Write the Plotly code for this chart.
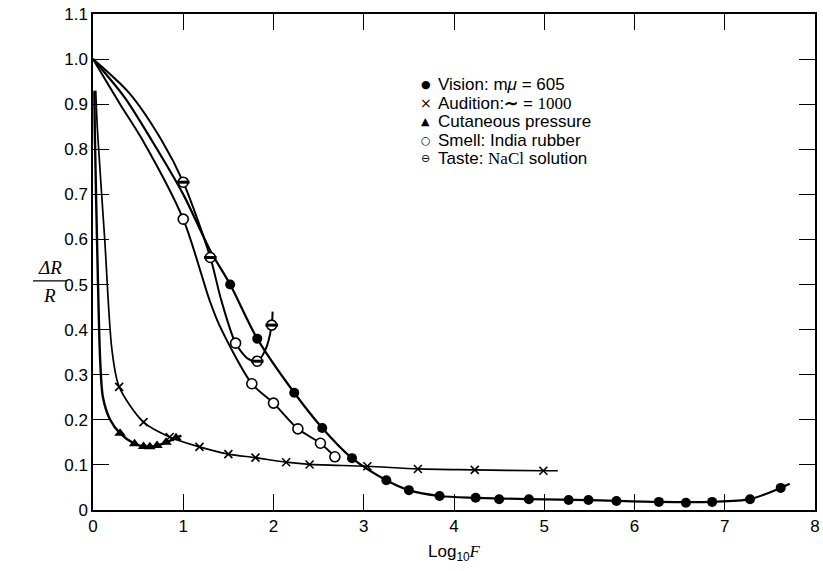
import plotly.graph_objects as go

# ---------------- data ----------------
vision_x = [1.52, 1.82, 2.23, 2.54, 2.87, 3.25, 3.5, 3.84, 4.24, 4.5, 4.83, 5.27, 5.49, 5.8, 6.27, 6.57, 6.86, 7.28, 7.62]
vision_y = [0.50, 0.38, 0.26, 0.182, 0.115, 0.066, 0.044, 0.031, 0.027, 0.024, 0.024, 0.022, 0.022, 0.020, 0.018, 0.016, 0.018, 0.024, 0.049]
vision_curve_x = [0, 0.35, 0.65, 1.0, 1.3, 1.52, 1.82, 2.23, 2.54, 2.87, 3.25, 3.5, 3.84, 4.24, 4.83, 5.49, 6.27, 6.86, 7.28, 7.62, 7.72]
vision_curve_y = [1.0, 0.915, 0.82, 0.70, 0.575, 0.50, 0.38, 0.26, 0.182, 0.115, 0.066, 0.044, 0.031, 0.027, 0.024, 0.022, 0.018, 0.018, 0.024, 0.049, 0.058]

audition_x = [0.29, 0.56, 0.85, 1.18, 1.5, 1.8, 2.14, 2.4, 3.04, 3.6, 4.23, 4.99]
audition_y = [0.273, 0.195, 0.162, 0.14, 0.124, 0.116, 0.106, 0.101, 0.097, 0.091, 0.089, 0.087]
audition_curve_x = [0.03, 0.05, 0.13, 0.21, 0.29, 0.56, 0.85, 1.18, 1.5, 1.8, 2.14, 2.4, 3.04, 3.6, 4.23, 4.99, 5.15]
audition_curve_y = [0.93, 0.84, 0.60, 0.355, 0.273, 0.195, 0.162, 0.14, 0.124, 0.116, 0.106, 0.101, 0.097, 0.091, 0.089, 0.087, 0.087]

cutaneous_x = [0.3, 0.46, 0.56, 0.63, 0.71, 0.81, 0.92]
cutaneous_y = [0.17, 0.147, 0.141, 0.14, 0.143, 0.15, 0.16]
cutaneous_curve_x = [0.015, 0.02, 0.05, 0.08, 0.11, 0.19, 0.3, 0.46, 0.56, 0.63, 0.71, 0.81, 0.92, 0.98]
cutaneous_curve_y = [0.93, 0.84, 0.55, 0.33, 0.25, 0.200, 0.17, 0.147, 0.141, 0.14, 0.143, 0.15, 0.16, 0.165]

smell_x = [1.0, 1.58, 1.76, 2.0, 2.27, 2.52, 2.68]
smell_y = [0.645, 0.37, 0.28, 0.237, 0.18, 0.148, 0.118]
smell_curve_x = [0, 0.3, 0.55, 1.0, 1.29, 1.4, 1.76, 2.0, 2.27, 2.52, 2.68]
smell_curve_y = [1.0, 0.90, 0.82, 0.645, 0.466, 0.41, 0.28, 0.237, 0.18, 0.148, 0.118]

taste_x = [1.0, 1.3, 1.82, 1.98]
taste_y = [0.727, 0.56, 0.33, 0.41]
taste_curve_x = [0, 0.4, 0.76, 1.0, 1.3, 1.42, 1.58, 1.72, 1.82, 1.91, 1.98, 1.99]
taste_curve_y = [1.0, 0.925, 0.82, 0.727, 0.56, 0.466, 0.37, 0.335, 0.33, 0.355, 0.41, 0.44]

x_ticks = [0, 1, 2, 3, 4, 5, 6, 7, 8]
y_ticks = [0, 0.1, 0.2, 0.3, 0.4, 0.5, 0.6, 0.7, 0.8, 0.9, 1.0, 1.1]
y_tick_text = ["0", "0.1", "0.2", "0.3", "0.4", "0.5", "0.6", "0.7", "0.8", "0.9", "1.0", "1.1"]

legend_labels = [
    "Vision: m<i>μ</i> = 605",
    "Audition:<b>∼</b> = <span style='font-family:Liberation Serif'>1000</span>",
    "Cutaneous pressure",
    "Smell: India rubber",
    "Taste: <span style='font-family:Liberation Serif'>NaCl</span> solution",
]
legend_glyphs = ["●", "×", "▲", "○", "⊖"]

# ---------------- figure ----------------
SANS = "Liberation Sans, Arial, sans-serif"
SERIF = "Liberation Serif, Times New Roman, serif"
fig = go.Figure()

def curve(x, y, w=2.0):
    fig.add_trace(go.Scatter(x=x, y=y, mode="lines",
                             line=dict(color="black", width=w, shape="spline", smoothing=0.8),
                             hoverinfo="skip", showlegend=False))

curve(vision_curve_x, vision_curve_y, 2.2)
curve(smell_curve_x, smell_curve_y, 2.0)
curve(taste_curve_x, taste_curve_y, 2.0)
curve(cutaneous_curve_x, cutaneous_curve_y, 2.4)
curve(audition_curve_x, audition_curve_y, 1.7)

fig.add_trace(go.Scatter(x=vision_x, y=vision_y, mode="markers",
                         marker=dict(symbol="circle", size=10, color="black"), showlegend=False))
fig.add_trace(go.Scatter(x=audition_x, y=audition_y, mode="markers",
                         marker=dict(symbol="x-thin", size=8, line=dict(color="black", width=1.6)),
                         showlegend=False))
fig.add_trace(go.Scatter(x=cutaneous_x, y=cutaneous_y, mode="markers",
                         marker=dict(symbol="triangle-up", size=10, color="black"), showlegend=False))
fig.add_trace(go.Scatter(x=smell_x, y=smell_y, mode="markers",
                         marker=dict(symbol="circle", size=10, color="white",
                                     line=dict(color="black", width=1.6)), showlegend=False))
fig.add_trace(go.Scatter(x=taste_x, y=taste_y, mode="markers",
                         marker=dict(symbol="circle", size=10, color="white",
                                     line=dict(color="black", width=1.6)), showlegend=False))
fig.add_trace(go.Scatter(x=taste_x, y=taste_y, mode="markers",
                         marker=dict(symbol="line-ew", size=9, line=dict(color="black", width=3)),
                         showlegend=False))

# legend built from text
row_y = [0.858, 0.820, 0.783, 0.745, 0.708]
for g, lab, yy in zip(legend_glyphs, legend_labels, row_y):
    fig.add_annotation(xref="paper", yref="paper", x=0.461, y=yy, text=g, showarrow=False,
                       xanchor="center", yanchor="middle",
                       font=dict(family="DejaVu Sans", size=11 if g != "×" else 14, color="black"))
    fig.add_annotation(xref="paper", yref="paper", x=0.475, y=yy, text=lab, showarrow=False,
                       xanchor="left", yanchor="middle",
                       font=dict(family=SANS, size=17, color="black"))

# y-axis title as a fraction
fig.add_annotation(xref="paper", yref="paper", x=-0.060, y=0.488, text="<i>ΔR</i>", showarrow=False,
                   xanchor="center", yanchor="middle", font=dict(family=SERIF, size=19, color="black"))
fig.add_annotation(xref="paper", yref="paper", x=-0.060, y=0.432, text="<i>R</i>", showarrow=False,
                   xanchor="center", yanchor="middle", font=dict(family=SERIF, size=19, color="black"))
fig.add_shape(type="line", xref="paper", yref="paper", x0=-0.083, x1=-0.037, y0=0.462, y1=0.462,
              line=dict(color="black", width=1.3))

fig.update_xaxes(range=[0, 8], tickvals=x_ticks, ticks="inside", ticklen=16, tickwidth=1.2,
                 tickcolor="black", showline=True, linecolor="black", linewidth=1.5, mirror="ticks",
                 showgrid=False, zeroline=False, ticklabeloverflow="allow",
                 tickfont=dict(family=SANS, size=17, color="black"),
                 title=dict(text="Log<sub>10</sub><span style='font-family:Liberation Serif'><i>F</i></span>",
                            font=dict(family=SANS, size=17, color="black"), standoff=10))
fig.update_yaxes(range=[0, 1.1], tickvals=y_ticks, ticktext=y_tick_text, ticks="inside", ticklen=16,
                 tickwidth=1.2, tickcolor="black", showline=True, linecolor="black", linewidth=1.5,
                 mirror="ticks", showgrid=False, zeroline=False, ticklabeloverflow="allow",
                 tickfont=dict(family=SANS, size=17, color="black"))

fig.update_layout(width=823, height=571, margin=dict(l=93, r=3, t=14, b=61),
                  plot_bgcolor="white", paper_bgcolor="white", showlegend=False)

# remove the browser's default 8 px body margin so the figure fills the window exactly
fig.write_html("out.html", config={"displayModeBar": False},
               post_script="document.body.style.margin='0px';")
